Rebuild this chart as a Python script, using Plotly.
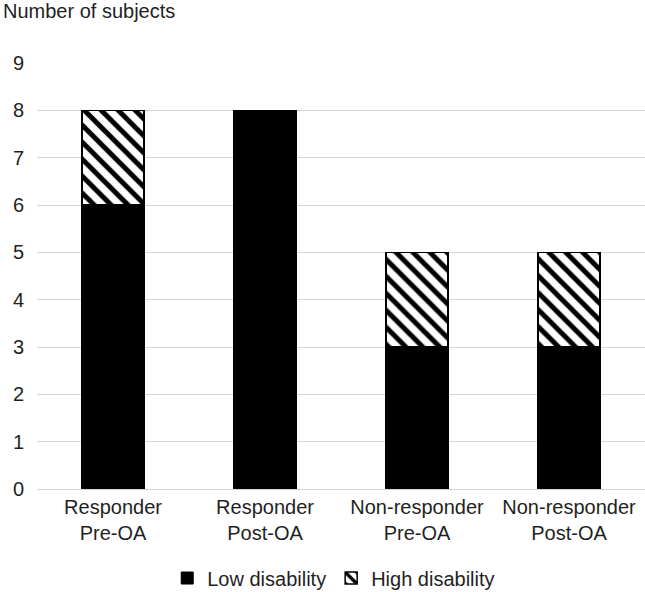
import plotly.graph_objects as go

categories = ["Responder<br>Pre-OA", "Responder<br>Post-OA", "Non-responder<br>Pre-OA", "Non-responder<br>Post-OA"]
low_disability = [6, 8, 3, 3]
high_disability = [2, 0, 2, 2]
y_ticks = list(range(0, 10))

TXT = "#1f1f1f"
FONT = "Liberation Sans, Arial, sans-serif"

fig = go.Figure()
fig.add_trace(go.Bar(
    x=categories, y=low_disability, name="Low disability",
    marker=dict(color="black", line=dict(color="black", width=1)),
))
fig.add_trace(go.Bar(
    x=categories, y=high_disability, name="High disability",
    marker=dict(color="white", line=dict(color="black", width=1.5),
                pattern=dict(shape="\\", fgcolor="black", bgcolor="white",
                             size=12, solidity=0.42, fillmode="replace")),
))

fig.update_layout(
    barmode="stack",
    bargap=0.59,
    width=645, height=592,
    margin=dict(l=37, r=0, t=63, b=103, autoexpand=False),
    paper_bgcolor="white", plot_bgcolor="white",
    font=dict(family=FONT, size=20, color=TXT),
    showlegend=True,
    legend=dict(orientation="h", x=0.488, xanchor="center", y=-0.209, yanchor="middle",
                font=dict(size=20, color=TXT), traceorder="normal", itemwidth=30,
                bgcolor="rgba(0,0,0,0)"),
    annotations=[dict(text="Number of subjects", xref="paper", yref="paper",
                      x=0, xshift=-36, y=1.0, yshift=52, xanchor="left", yanchor="middle",
                      showarrow=False, font=dict(size=20, color=TXT))],
)
fig.update_yaxes(range=[0, 9], tickvals=y_ticks, showgrid=True, gridcolor="#d4d4d4",
                 gridwidth=1.3, zeroline=False, showline=False, ticks="",
                 ticklabelstandoff=12, tickfont=dict(size=20, color=TXT))
fig.update_xaxes(showline=True, linecolor="#d4d4d4", linewidth=1.3, ticks="",
                 tickfont=dict(size=20, color=TXT))

fig.write_html("out.html", config={"displayModeBar": False},
               post_script="document.body.style.margin='0';")
